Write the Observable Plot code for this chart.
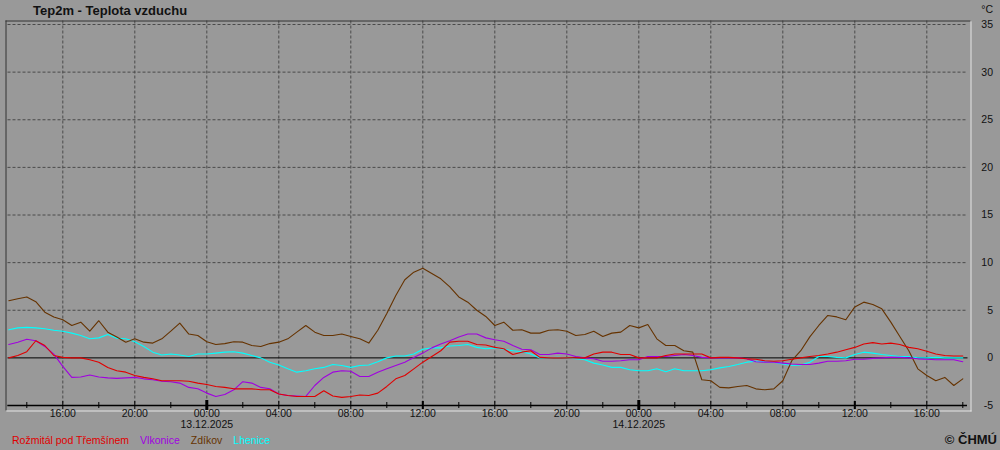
<!DOCTYPE html>
<html><head><meta charset="utf-8">
<script src="https://cdn.jsdelivr.net/npm/d3@7"></script>
<script src="https://cdn.jsdelivr.net/npm/@observablehq/plot@0.6"></script>
<style>
html,body{margin:0;padding:0;background:#999;}
#wrap{position:relative;width:1000px;height:450px;background:#999;font-family:"Liberation Sans",Arial,sans-serif;overflow:hidden;}
#wrap svg{position:absolute;left:0;top:0;}
.title{position:absolute;left:33px;top:3px;font-weight:bold;font-size:13px;color:#111;white-space:nowrap;}
.legend{position:absolute;left:12px;top:434px;font-size:10.5px;white-space:nowrap;}
.legend span{margin-right:11px;}
.copy{position:absolute;right:3px;top:432px;font-weight:bold;font-size:13px;color:#111;white-space:nowrap;}
.unit{position:absolute;right:7px;top:3px;font-size:10.5px;color:#111;white-space:nowrap;}
</style></head>
<body><div id="wrap"></div>
<script>
// ---- data ----
const stations = ["Rožmitál pod Třemšínem", "Vlkonice", "Zdíkov", "Lhenice"];
const stationColors = ["#e00000", "#a000e0", "#663300", "#00ffff"];
const startHour = 13;      // 12.12.2025 13:00 (hours since 12.12. 00:00)
const stepHours = 0.5;

// values every 30 min, 12.12 13:00 ... 14.12 18:00
const rozmital = [
  0, 0.25, 0.65, 1.8, 1.3, 0.25, 0.05, 0, 0, -0.2, -0.45, -1.0, -1.35, -1.5, -1.85, -2.05, -2.2, -2.4, -2.4, -2.4, -2.45, -2.65,
  -2.8, -3.0, -3.1, -3.25, -3.25, -3.25, -3.35, -3.35, -3.8, -3.95, -4.05, -4.05, -4.05, -3.45,
  -4.0, -4.15, -4.05, -3.9, -3.95, -3.7, -3.0, -2.2, -1.85, -1.15, -0.45, 0.15, 0.75, 1.65, 1.75, 1.75, 1.4, 1.35, 1.1, 0.95,
  0.35, 0.6, 0.75, 0.05, 0, 0, 0, 0, 0, 0.4, 0.6, 0.6, 0.35, 0.35,
  0, 0, 0, 0.25, 0.4, 0.4, 0.4, 0.4, 0, 0.05, 0.05, 0, -0.1, -0.15, -0.3, -0.35, -0.3, -0.15, 0, 0.15,
  0.25, 0.4, 0.6, 0.85, 1.1, 1.45, 1.6, 1.45, 1.55, 1.4, 1.1, 0.95, 0.7, 0.4, 0.25, 0.2, 0.2
];
const vlkonice = [
  1.4, 1.65, 1.95, 1.8, 1.2, 0.4, -0.9, -2.05, -2.0, -1.8, -2.0, -2.1, -2.15, -2.1, -2.05, -2.2, -2.3, -2.45, -2.5, -2.65, -3.1, -3.25,
  -3.7, -4.05, -3.85, -3.35, -2.5, -2.65, -3.1, -3.25, -3.8, -3.95, -4.0, -4.05, -2.9, -2.05,
  -1.5, -1.35, -1.4, -1.95, -1.95, -1.5, -1.15, -0.8, -0.45, 0.05, 0.5, 1.05, 1.45, 1.8, 2.2, 2.5, 2.5, 2.1, 1.9, 1.75,
  1.3, 0.9, 0.85, 0.35, 0.35, 0.5, 0.4, 0.15, 0, -0.1, -0.35, -0.35, -0.3, -0.2,
  -0.2, 0.15, 0.15, 0.15, 0.25, 0.35, 0.25, 0.05, 0, 0, 0, 0, -0.1, -0.4, -0.45, -0.45, -0.55, -0.65, -0.7, -0.7,
  -0.55, -0.35, -0.35, -0.3, -0.15, -0.15, -0.05, 0, 0.05, 0.05, 0, -0.1, -0.15, -0.2, -0.2, -0.2, -0.4
];
const zdikov = [
  6.0, 6.2, 6.4, 5.9, 4.8, 4.3, 4.0, 3.4, 3.75, 2.8, 3.9, 2.7, 2.2, 1.65, 2.0, 1.65, 1.55, 2.0, 2.8, 3.65, 2.5, 2.35,
  1.7, 1.4, 1.5, 1.7, 1.65, 1.3, 1.2, 1.5, 1.65, 2.0, 2.7, 3.4, 2.7, 2.35,
  2.35, 2.5, 2.25, 2.0, 1.55, 2.9, 4.65, 6.55, 8.2, 9.0, 9.4, 8.85, 8.3, 7.45, 6.4, 5.85, 5.0, 4.35, 3.4, 3.75,
  2.9, 2.95, 2.6, 2.6, 2.9, 2.95, 2.8, 2.35, 2.45, 2.8, 2.25, 2.6, 2.7, 3.4,
  3.15, 3.5, 2.0, 1.3, 1.3, 0.75, 0.6, -2.3, -2.4, -3.1, -3.15, -3.0, -2.9, -3.25, -3.35, -3.25, -2.4, -0.3, 0.75, 2.2,
  3.4, 4.45, 4.3, 4.0, 5.35, 5.85, 5.6, 5.15, 3.75, 2.25, 0.75, -1.15, -1.85, -2.4, -2.05, -2.9, -2.2
];
const lhenice = [
  2.95, 3.15, 3.2, 3.15, 3.05, 2.9, 2.8, 2.6, 2.35, 2.0, 2.1, 2.45, 2.05, 2.0, 1.7, 1.2, 0.6, 0.3, 0.4, 0.3, 0.15, 0.4,
  0.4, 0.5, 0.6, 0.65, 0.5, 0.25, 0, -0.45, -0.75, -1.15, -1.5, -1.35, -1.15, -1.0,
  -0.7, -0.8, -1.0, -0.8, -0.75, -0.4, 0, 0.2, 0.2, 0.4, 0.9, 1.05, 1.05, 1.25, 1.3, 1.4, 1.1, 0.95, 1.05, 0.9,
  0.75, 0.65, 0.4, 0, 0, 0.05, 0, -0.1, -0.2, -0.55, -0.75, -1.0, -1.0, -1.25,
  -1.35, -1.35, -1.15, -1.45, -1.15, -1.35, -1.35, -1.35, -1.25, -1.05, -0.9, -0.7, -0.45, -0.35, -0.4, -0.45, -0.65, -0.8, -0.75, -0.45,
  0.15, 0.15, 0.05, 0, 0.35, 0.6, 0.5, 0.35, 0.25, 0.15, 0.15, 0, 0, 0.05, 0, 0, 0
];

const xDomain = [13, 66];
const labelHours = [16, 20, 24, 28, 32, 36, 40, 44, 48, 52, 56, 60, 64];
const xLabels = ["16:00", "20:00", "00:00", "04:00", "08:00", "12:00", "16:00", "20:00", "00:00", "04:00", "08:00", "12:00", "16:00"];
const minorHours = [14, 18, 22, 26, 30, 34, 38, 42, 46, 50, 54, 58, 62, 66];
const noonHours = [36, 60];
const dayHours = [24, 48];
const dateLabels = ["13.12.2025", "14.12.2025"];
const yTicks = [-5, 0, 5, 10, 15, 20, 25, 30, 35];
const yGrid = [5, 10, 15, 20, 25, 30, 35];
const unitLabel = "°C";

// ---- build ----
const seriesValues = [rozmital, vlkonice, zdikov, lhenice];
const drawOrder = [3, 2, 1, 0];
const rows = [];
for (const k of drawOrder) {
  seriesValues[k].forEach((v, i) => rows.push({name: stations[k], h: startHour + i * stepHours, t: v}));
}
const axisMin = yTicks[0];
const tickRow = h => ({h, y: axisMin});

const gridStroke = "#4a4a4a";
const plot = Plot.plot({
  width: 1000, height: 450,
  marginLeft: 5.5, marginRight: 29.5, marginTop: 20.5, marginBottom: 39.5,
  x: {type: "linear", domain: xDomain, insetLeft: 2.8, insetRight: 8.2, axis: null},
  y: {domain: [-5, 35], insetTop: 3.5, insetBottom: 5.5, axis: null},
  color: {domain: stations, range: stationColors},
  style: {background: "transparent", fontFamily: "'Liberation Sans', Arial, sans-serif", fontSize: "10.5px", overflow: "visible", color: "#111"},
  marks: [
    Plot.gridX(labelHours, {stroke: gridStroke, strokeOpacity: 1, strokeDasharray: "3,2", insetBottom: 5.5}),
    Plot.gridY(yGrid, {stroke: gridStroke, strokeOpacity: 1, strokeDasharray: "3,2", insetLeft: 2, insetRight: 3}),
    Plot.ruleY([0], {stroke: "black", insetLeft: 2, insetRight: 3}),
    Plot.line(rows, {x: "h", y: "t", z: "name", stroke: "name", strokeWidth: 1.1}),
    Plot.ruleY([axisMin], {stroke: "black", strokeWidth: 1.5, insetLeft: 1.8, insetRight: 3.5}),
    Plot.ruleX(minorHours.map(tickRow), {x: "h", y1: "y", y2: "y", insetTop: -3, insetBottom: -3, stroke: "black"}),
    Plot.ruleX(labelHours.map(tickRow), {x: "h", y1: "y", y2: "y", insetTop: -4, insetBottom: -4, stroke: "black"}),
    Plot.ruleX(noonHours.map(tickRow), {x: "h", y1: "y", y2: "y", insetTop: -4, insetBottom: -4, stroke: "black", strokeWidth: 2}),
    Plot.ruleX(dayHours.map(tickRow), {x: "h", y1: "y", y2: "y", insetTop: -5, insetBottom: -5, stroke: "black", strokeWidth: 3}),
    Plot.frame({anchor: "top", stroke: "#333"}),
    Plot.frame({anchor: "left", stroke: "#333"}),
    Plot.frame({anchor: "bottom", stroke: "#e6e6e6"}),
    Plot.frame({anchor: "right", stroke: "#e6e6e6"}),
    Plot.text(yTicks, {y: d => d, text: d => String(d), frameAnchor: "right", dx: 22, textAnchor: "end", fill: "#111"}),
    Plot.text(labelHours, {x: d => d, text: (d, i) => xLabels[i], frameAnchor: "bottom", dy: 5.5, fill: "#111"}),
    Plot.text(dayHours, {x: d => d, text: (d, i) => dateLabels[i], frameAnchor: "bottom", dy: 17, fill: "#111"})
  ]
});

const wrap = document.getElementById("wrap");
wrap.appendChild(plot);
const title = document.createElement("div");
title.className = "title";
title.textContent = "Tep2m - Teplota vzduchu";
wrap.appendChild(title);
const unit = document.createElement("div");
unit.className = "unit";
unit.textContent = unitLabel;
wrap.appendChild(unit);
const legend = document.createElement("div");
legend.className = "legend";
stations.forEach((s, i) => {
  const sp = document.createElement("span");
  sp.textContent = s;
  sp.style.color = stationColors[i];
  legend.appendChild(sp);
});
wrap.appendChild(legend);
const copy = document.createElement("div");
copy.className = "copy";
copy.textContent = "© ČHMÚ";
wrap.appendChild(copy);
</script></body></html>
